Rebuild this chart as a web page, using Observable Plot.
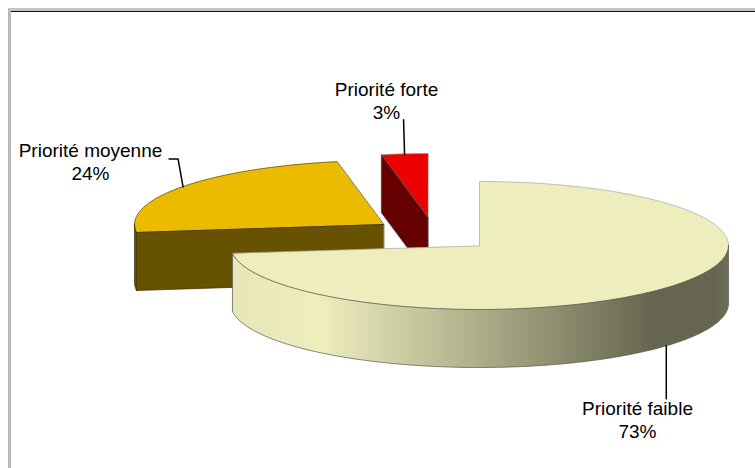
<!DOCTYPE html>
<html><head><meta charset="utf-8">
<script src="https://cdn.jsdelivr.net/npm/d3@7"></script>
<script src="https://cdn.jsdelivr.net/npm/@observablehq/plot@0.6"></script>
<style>
html,body{margin:0;padding:0;background:#fff;overflow:hidden}
#frame{position:absolute;left:8px;top:8px;right:0;bottom:0;border-top:3px solid #c4c4c4;border-left:3px solid #b8b8b8}
#frame:before{content:"";position:absolute;left:0;right:0;top:0;height:1px;background:#111}
#chart{position:absolute;left:0;top:0}
svg{display:block;background:transparent!important}
</style></head><body>
<div id="frame"></div><div id="chart"></div>
<script>
const names = ["Priorité faible", "Priorité moyenne", "Priorité forte"];
const values = [73, 24, 3];
const centersX = [479, 383, 427.5];
const centersY = [245, 224, 217];
const radiusX = 249, radiusY = 64, depth = 58;
const topColors = ["#ededbe", "#ebbb00", "#ee0000"];
const sideColors = ["url(#rim)", "#665200", "#660000"];
const labelX = [637, 90, 386];
const labelY = [419, 161, 100];

// each slice's angular span, clockwise from twelve o'clock
let cum = 0;
const slices = names.map((name, i) => {
  const a0 = cum / 100 * 2 * Math.PI; cum += values[i];
  const a1 = cum / 100 * 2 * Math.PI;
  return {name, i, a0, a1, cx: centersX[i], cy: centersY[i]};
});
const pt = (s, a, dz = 0) => ({x: s.cx + radiusX * Math.sin(a), y: s.cy - radiusY * Math.cos(a) + dz});
const arc = (s, a0, a1, dz = 0) => {
  const n = Math.max(2, Math.ceil(Math.abs(a1 - a0) * 60));
  return d3.range(n + 1).map(k => pt(s, a0 + (a1 - a0) * k / n, dz));
};
const apex = (s, dz = 0) => ({x: s.cx, y: s.cy + dz});
const topFace = s => [apex(s), ...arc(s, s.a0, s.a1)];
// curved outer wall, only the part below the ellipse's horizontal axis is visible
const rim = (s, a0, a1) => [...arc(s, a0, a1), ...arc(s, a1, a0, depth)];
const cutFace = (s, a) => [apex(s), pt(s, a), pt(s, a, depth), apex(s, depth)];

const [faible, moyenne, forte] = slices;
const poly = (pts, fill, stroke, sw = 0.7) =>
  Plot.line(pts, {x: "x", y: "y", fill, stroke, strokeWidth: sw, curve: "linear-closed"});

const defs = () => {
  const d = d3.create("svg:defs");
  const g = d.append("linearGradient").attr("id", "rim");
  [[0, "#e6e6b9"], [0.18, "#ededbe"], [0.85, "#666650"], [0.97, "#666650"], [1, "#6e6e58"]]
    .forEach(([o, c]) => g.append("stop").attr("offset", o).attr("stop-color", c));
  return d.node();
};

const mid = s => (s.a0 + s.a1) / 2;
const leaders = [
  [{...pt(faible, mid(faible), depth), dx: 0, dy: 0}, {dx: 0, dy: 53}],
  [{...pt(moyenne, mid(moyenne)), dx: 1, dy: 0}, {dx: -4, dy: -28}, {dx: -13, dy: -28}],
  [{...pt(forte, mid(forte)), dx: 0, dy: 1}, {dx: -1, dy: -34}]
].map(l => l.map(p => ({x: l[0].x + p.dx, y: l[0].y + p.dy})));

const labels = names.map((n, i) => ({text: `${n}\n${values[i]}%`, x: labelX[i], y: labelY[i]}));

const plot = Plot.plot({
  width: 755, height: 468,
  margin: 0,
  x: {domain: [0, 755], range: [0, 755], axis: null},
  y: {domain: [0, 468], range: [0, 468], axis: null},
  style: {background: "transparent"},
  marks: [
    defs,
    // Priorité forte
    poly(topFace(forte), topColors[2], "#999"),
    poly(cutFace(forte, forte.a0), sideColors[2], "#444"),
    // Priorité moyenne
    poly(topFace(moyenne), topColors[1], "#4a3c00"),
    poly(rim(moyenne, moyenne.a0, 1.5 * Math.PI), sideColors[1], "#3a3000"),
    poly(cutFace(moyenne, moyenne.a0), sideColors[1], "#3a3000"),
    // Priorité faible
    poly(topFace(faible), topColors[0], "#a8a896"),
    poly(rim(faible, Math.PI / 2, faible.a1), sideColors[0], "#55554a"),
    ...leaders.map(l => Plot.line(l, {x: "x", y: "y", stroke: "#000", strokeWidth: 1.5})),
    Plot.text(labels, {x: "x", y: "y", text: "text", fontSize: 19, fill: "#000", lineHeight: 1.2, lineAnchor: "middle", fontFamily: "Liberation Sans"})
  ]
});
document.getElementById("chart").append(plot);
</script>
</body></html>
